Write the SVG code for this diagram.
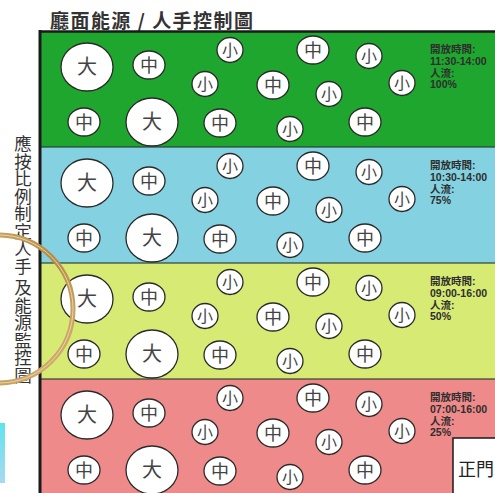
<svg xmlns="http://www.w3.org/2000/svg" xmlns:xlink="http://www.w3.org/1999/xlink" width="495" height="493" viewBox="0 0 495 493">
<style>
.cjk{font-family:"Noto Sans CJK TC","Noto Sans CJK SC",sans-serif;}
.node use{fill:#ffffff;stroke:#2a2a2a;stroke-width:1.3;}
.node text{font-family:"Noto Sans CJK TC","Noto Sans CJK SC",sans-serif;fill:#444;text-anchor:middle;}
.tb{font-size:20px;}
.tm{font-size:18px;}
.ts{font-size:16px;}
.info text{font-family:"Liberation Sans","Noto Sans CJK TC",sans-serif;font-weight:bold;font-size:10.5px;fill:#2e2e2e;}
.sep{stroke:#243a30;stroke-width:1.6;stroke-opacity:0.75;}
</style>
<defs>
<ellipse id="cb" cx="0" cy="0" rx="26" ry="24"/>
<ellipse id="cm" cx="0" cy="0" rx="16" ry="14"/>
<ellipse id="cs" cx="0" cy="0" rx="13" ry="12.5"/>
<linearGradient id="gold" x1="0" y1="0" x2="1" y2="1">
<stop offset="0" stop-color="#d9b878"/>
<stop offset="0.5" stop-color="#b58a45"/>
<stop offset="1" stop-color="#d7b57a"/>
</linearGradient>
<linearGradient id="cyan" x1="0" y1="0" x2="0" y2="1">
<stop offset="0" stop-color="#5fe3ee"/>
<stop offset="1" stop-color="#a9d9f2"/>
</linearGradient>
</defs>
<rect x="0" y="0" width="495" height="493" fill="#ffffff"/>

<g id="title">
<text class="cjk" x="50" y="28" font-size="19" font-weight="bold" fill="#333" textLength="203" lengthAdjust="spacing">廳面能源 / 人手控制圖</text>
</g>

<g id="bands">
<rect x="40" y="31" width="460" height="116" fill="#1fa62e"/>
<rect x="40" y="147" width="460" height="116" fill="#84d1e1"/>
<rect x="40" y="263" width="460" height="116" fill="#d7ea73"/>
<rect x="40" y="379" width="460" height="120" fill="#ef8a8a"/>
<line class="sep" x1="40" y1="147" x2="495" y2="147"/>
<line class="sep" x1="40" y1="263" x2="495" y2="263"/>
<line class="sep" x1="40" y1="379" x2="495" y2="379"/>
<line x1="40" y1="31.5" x2="495" y2="31.5" stroke="#1a1a1a" stroke-width="2.5"/>
<line x1="40" y1="30" x2="40" y2="493" stroke="#1a1a1a" stroke-width="3"/>
</g>

<g id="band-green" transform="translate(0,31)">
<g id="g-a" class="node" transform="translate(87,36)"><use xlink:href="#cb"/><text class="tb" y="7">大</text></g>
<g id="g-b" class="node" transform="translate(149,34)"><use xlink:href="#cm"/><text class="tm" y="7">中</text></g>
<g id="g-c" class="node" transform="translate(230,19)"><use xlink:href="#cs"/><text class="ts" y="6">小</text></g>
<g id="g-d" class="node" transform="translate(313,19)"><use xlink:href="#cm"/><text class="tm" y="7">中</text></g>
<g id="g-e" class="node" transform="translate(369,25)"><use xlink:href="#cs"/><text class="ts" y="6">小</text></g>
<g id="g-f" class="node" transform="translate(205,53)"><use xlink:href="#cs"/><text class="ts" y="6">小</text></g>
<g id="g-g" class="node" transform="translate(273,54)"><use xlink:href="#cm"/><text class="tm" y="7">中</text></g>
<g id="g-h" class="node" transform="translate(329,63)"><use xlink:href="#cs"/><text class="ts" y="6">小</text></g>
<g id="g-i" class="node" transform="translate(402,52)"><use xlink:href="#cs"/><text class="ts" y="6">小</text></g>
<g id="g-j" class="node" transform="translate(84,91)"><use xlink:href="#cm"/><text class="tm" y="7">中</text></g>
<g id="g-k" class="node" transform="translate(152,91)"><use xlink:href="#cb"/><text class="tb" y="7">大</text></g>
<g id="g-l" class="node" transform="translate(220,92)"><use xlink:href="#cm"/><text class="tm" y="7">中</text></g>
<g id="g-m" class="node" transform="translate(290,98)"><use xlink:href="#cs"/><text class="ts" y="6">小</text></g>
<g id="g-n" class="node" transform="translate(365,91)"><use xlink:href="#cm"/><text class="tm" y="7">中</text></g>
<g id="info-green" class="info" transform="translate(430,0)"><text y="22">開放時間:</text><text y="34">11:30-14:00</text><text y="46">人流:</text><text y="57">100%</text></g>
</g>

<g id="band-blue" transform="translate(0,147)">
<g id="b-a" class="node" transform="translate(87,36)"><use xlink:href="#cb"/><text class="tb" y="7">大</text></g>
<g id="b-b" class="node" transform="translate(149,34)"><use xlink:href="#cm"/><text class="tm" y="7">中</text></g>
<g id="b-c" class="node" transform="translate(230,19)"><use xlink:href="#cs"/><text class="ts" y="6">小</text></g>
<g id="b-d" class="node" transform="translate(313,19)"><use xlink:href="#cm"/><text class="tm" y="7">中</text></g>
<g id="b-e" class="node" transform="translate(369,25)"><use xlink:href="#cs"/><text class="ts" y="6">小</text></g>
<g id="b-f" class="node" transform="translate(205,53)"><use xlink:href="#cs"/><text class="ts" y="6">小</text></g>
<g id="b-g" class="node" transform="translate(273,54)"><use xlink:href="#cm"/><text class="tm" y="7">中</text></g>
<g id="b-h" class="node" transform="translate(329,63)"><use xlink:href="#cs"/><text class="ts" y="6">小</text></g>
<g id="b-i" class="node" transform="translate(402,52)"><use xlink:href="#cs"/><text class="ts" y="6">小</text></g>
<g id="b-j" class="node" transform="translate(84,91)"><use xlink:href="#cm"/><text class="tm" y="7">中</text></g>
<g id="b-k" class="node" transform="translate(152,91)"><use xlink:href="#cb"/><text class="tb" y="7">大</text></g>
<g id="b-l" class="node" transform="translate(220,92)"><use xlink:href="#cm"/><text class="tm" y="7">中</text></g>
<g id="b-m" class="node" transform="translate(290,98)"><use xlink:href="#cs"/><text class="ts" y="6">小</text></g>
<g id="b-n" class="node" transform="translate(365,91)"><use xlink:href="#cm"/><text class="tm" y="7">中</text></g>
<g id="info-blue" class="info" transform="translate(430,0)"><text y="22">開放時間:</text><text y="34">10:30-14:00</text><text y="46">人流:</text><text y="57">75%</text></g>
</g>

<g id="band-yellow" transform="translate(0,263)">
<g id="y-a" class="node" transform="translate(87,36)"><use xlink:href="#cb"/><text class="tb" y="7">大</text></g>
<g id="y-b" class="node" transform="translate(149,34)"><use xlink:href="#cm"/><text class="tm" y="7">中</text></g>
<g id="y-c" class="node" transform="translate(230,19)"><use xlink:href="#cs"/><text class="ts" y="6">小</text></g>
<g id="y-d" class="node" transform="translate(313,19)"><use xlink:href="#cm"/><text class="tm" y="7">中</text></g>
<g id="y-e" class="node" transform="translate(369,25)"><use xlink:href="#cs"/><text class="ts" y="6">小</text></g>
<g id="y-f" class="node" transform="translate(205,53)"><use xlink:href="#cs"/><text class="ts" y="6">小</text></g>
<g id="y-g" class="node" transform="translate(273,54)"><use xlink:href="#cm"/><text class="tm" y="7">中</text></g>
<g id="y-h" class="node" transform="translate(329,63)"><use xlink:href="#cs"/><text class="ts" y="6">小</text></g>
<g id="y-i" class="node" transform="translate(402,52)"><use xlink:href="#cs"/><text class="ts" y="6">小</text></g>
<g id="y-j" class="node" transform="translate(84,91)"><use xlink:href="#cm"/><text class="tm" y="7">中</text></g>
<g id="y-k" class="node" transform="translate(152,91)"><use xlink:href="#cb"/><text class="tb" y="7">大</text></g>
<g id="y-l" class="node" transform="translate(220,92)"><use xlink:href="#cm"/><text class="tm" y="7">中</text></g>
<g id="y-m" class="node" transform="translate(290,98)"><use xlink:href="#cs"/><text class="ts" y="6">小</text></g>
<g id="y-n" class="node" transform="translate(365,91)"><use xlink:href="#cm"/><text class="tm" y="7">中</text></g>
<g id="info-yellow" class="info" transform="translate(430,0)"><text y="22">開放時間:</text><text y="34">09:00-16:00</text><text y="46">人流:</text><text y="57">50%</text></g>
</g>

<g id="band-red" transform="translate(0,379)">
<g id="r-a" class="node" transform="translate(87,36)"><use xlink:href="#cb"/><text class="tb" y="7">大</text></g>
<g id="r-b" class="node" transform="translate(149,34)"><use xlink:href="#cm"/><text class="tm" y="7">中</text></g>
<g id="r-c" class="node" transform="translate(230,19)"><use xlink:href="#cs"/><text class="ts" y="6">小</text></g>
<g id="r-d" class="node" transform="translate(313,19)"><use xlink:href="#cm"/><text class="tm" y="7">中</text></g>
<g id="r-e" class="node" transform="translate(369,25)"><use xlink:href="#cs"/><text class="ts" y="6">小</text></g>
<g id="r-f" class="node" transform="translate(205,53)"><use xlink:href="#cs"/><text class="ts" y="6">小</text></g>
<g id="r-g" class="node" transform="translate(273,54)"><use xlink:href="#cm"/><text class="tm" y="7">中</text></g>
<g id="r-h" class="node" transform="translate(329,63)"><use xlink:href="#cs"/><text class="ts" y="6">小</text></g>
<g id="r-i" class="node" transform="translate(402,52)"><use xlink:href="#cs"/><text class="ts" y="6">小</text></g>
<g id="r-j" class="node" transform="translate(84,91)"><use xlink:href="#cm"/><text class="tm" y="7">中</text></g>
<g id="r-k" class="node" transform="translate(152,91)"><use xlink:href="#cb"/><text class="tb" y="7">大</text></g>
<g id="r-l" class="node" transform="translate(220,92)"><use xlink:href="#cm"/><text class="tm" y="7">中</text></g>
<g id="r-m" class="node" transform="translate(290,98)"><use xlink:href="#cs"/><text class="ts" y="6">小</text></g>
<g id="r-n" class="node" transform="translate(365,91)"><use xlink:href="#cm"/><text class="tm" y="7">中</text></g>
<g id="info-red" class="info" transform="translate(430,0)"><text y="22">開放時間:</text><text y="34">07:00-16:00</text><text y="46">人流:</text><text y="57">25%</text></g>
</g>

<g id="gate">
<rect x="453" y="438" width="50" height="60" fill="#ffffff" stroke="#1a1a1a" stroke-width="1.5"/>
<text class="cjk" x="458" y="476" font-size="18" fill="#222">正門</text>
</g>

<g id="side-label">
<text class="cjk" x="23" y="135" font-size="17.5" fill="#333" writing-mode="vertical-rl">應按比例制定人手 及能源監控圖</text>
</g>

<g id="ring">
<circle cx="-1" cy="309" r="74" fill="none" stroke="url(#gold)" stroke-width="5"/>
<circle cx="-1" cy="309" r="74" fill="none" stroke="#f3e2b8" stroke-width="1" stroke-opacity="0.8"/>
</g>

<rect id="cyan-edge" x="0" y="423" width="5" height="60" fill="url(#cyan)"/>
</svg>
